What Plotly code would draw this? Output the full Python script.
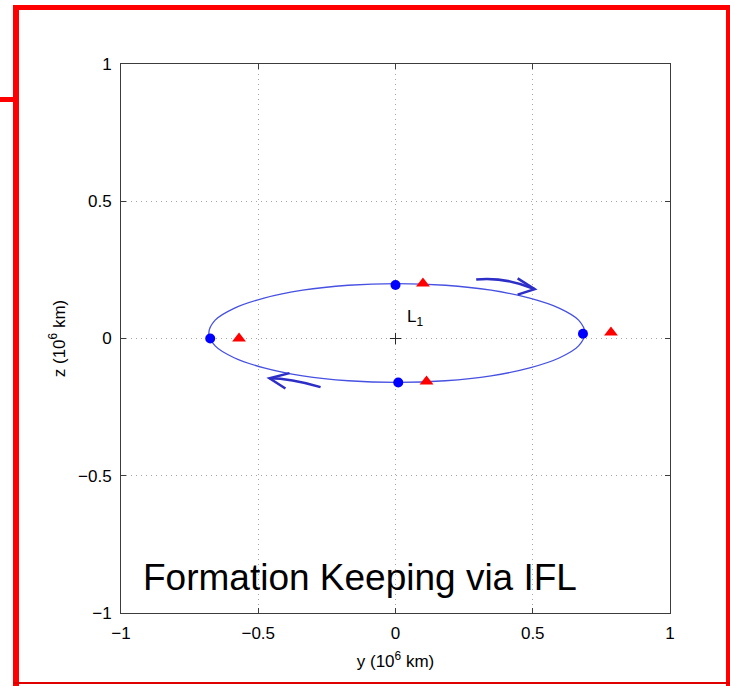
import plotly.graph_objects as go

# Orbit (y, z) in 10^6 km
orbit_y = [0.690, 0.667, 0.598, 0.489, 0.348, 0.182, 0.005, -0.172, -0.338, -0.479, -0.588, -0.657,
           -0.680, -0.657, -0.588, -0.479, -0.338, -0.172, 0.005, 0.182, 0.348, 0.489, 0.598, 0.667, 0.690]
orbit_z = [0.020, 0.067, 0.110, 0.147, 0.176, 0.194, 0.200, 0.194, 0.176, 0.147, 0.110, 0.067,
           0.020, -0.027, -0.070, -0.107, -0.136, -0.154, -0.160, -0.154, -0.136, -0.107, -0.070, -0.027, 0.020]

# Blue dots (chief) and red triangles (deputy)
dots_y = [0.0, -0.675, 0.683, 0.01]
dots_z = [0.195, 0.0, 0.017, -0.16]
tri_y = [0.10, -0.57, 0.785, 0.113]
tri_z = [0.20, 0.0, 0.022, -0.157]

# L1 point
l1_y = [0.0]
l1_z = [0.0]

# Direction arrows: tail, control, tip, barb1, barb2
arrow_top = [(0.294, 0.215), (0.394, 0.226), (0.507, 0.180), (0.445, 0.219), (0.445, 0.160)]
arrow_bot = [(-0.273, -0.177), (-0.384, -0.145), (-0.459, -0.145), (-0.386, -0.126), (-0.401, -0.182)]

tick_vals = [-1, -0.5, 0, 0.5, 1]
tick_text = ["\u22121", "\u22120.5", "0", "0.5", "1"]

fig = go.Figure()
fig.add_trace(go.Scatter(x=orbit_y, y=orbit_z, mode="lines", line=dict(color="rgb(70,80,225)", width=1.3, shape="spline", smoothing=1.0), hoverinfo="skip"))
fig.add_trace(go.Scatter(x=dots_y, y=dots_z, mode="markers", marker=dict(color="rgb(0,0,255)", size=10, symbol="circle")))
fig.add_trace(go.Scatter(x=tri_y, y=tri_z, mode="markers", marker=dict(color="rgb(255,0,0)", size=12, symbol="triangle-up")))
fig.add_trace(go.Scatter(x=l1_y, y=l1_z, mode="markers", marker=dict(color="rgb(40,40,40)", size=8, symbol="cross-thin", line=dict(color="rgb(40,40,40)", width=1))))

shapes = []
acol = "rgb(45,45,200)"
for arr in (arrow_top, arrow_bot):
    (t, c, p, b1, b2) = arr
    shapes.append(dict(type="path", xref="x", yref="y",
                       path=f"M {t[0]},{t[1]} Q {c[0]},{c[1]} {p[0]},{p[1]}",
                       line=dict(color=acol, width=2.5)))
    shapes.append(dict(type="path", xref="x", yref="y",
                       path=f"M {b1[0]},{b1[1]} L {p[0]},{p[1]} L {b2[0]},{b2[1]}",
                       line=dict(color=acol, width=2.5)))

# red slide frame (pixel -> paper)
L, T, B, W, H = 121, 64, 73, 730, 686
PW = W - L - 60
PH = H - T - B
def px(x):
    return (x - L) / PW
def py(y):
    return (H - B - y) / PH
def rect(x0, y0, x1, y1, col="rgb(255,0,0)"):
    shapes.append(dict(type="rect", xref="paper", yref="paper", x0=px(x0), x1=px(x1), y0=py(y1), y1=py(y0),
                       fillcolor=col, line=dict(width=0), layer="above"))
rect(13, 5, 730, 10)
rect(13, 5, 19, 686)
rect(726, 5, 730, 686)
rect(0, 97, 14, 102)
rect(13, 682, 730, 684, "rgb(225,0,0)")

annotations = [
    dict(x=0.035, y=0.075, xref="x", yref="y", text="L<sub>1</sub>", showarrow=False,
         font=dict(family="Liberation Sans", size=17, color="black"), xanchor="left", yanchor="middle"),
    dict(x=-0.128, y=-0.871, xref="x", yref="y", text="Formation Keeping via IFL", showarrow=False,
         font=dict(family="Liberation Sans", size=37, color="black"), xanchor="center", yanchor="middle"),
]

axis_common = dict(range=[-1, 1], tickvals=tick_vals, ticktext=tick_text, showgrid=True,
                   gridcolor="rgb(165,165,165)", griddash="1px,4px", gridwidth=1,
                   zeroline=False, showline=True, linecolor="rgb(60,60,60)", linewidth=1, mirror="ticks",
                   ticks="inside", ticklen=5, tickcolor="rgb(60,60,60)",
                   tickfont=dict(family="Liberation Sans", size=17, color="black"))

fig.update_layout(
    width=W, height=H, margin=dict(l=L, r=60, t=T, b=B),
    paper_bgcolor="white", plot_bgcolor="white", showlegend=False,
    xaxis=dict(**axis_common, ticklabelstandoff=5,
               title=dict(text="y (10<sup>6</sup> km)", standoff=12,
                          font=dict(family="Liberation Sans", size=17, color="black"))),
    yaxis=dict(**axis_common, ticklabelstandoff=5,
               title=dict(text="z (10<sup>6</sup> km)", standoff=8,
                          font=dict(family="Liberation Sans", size=17, color="black"))),
    shapes=shapes, annotations=annotations,
)

fig.write_html("out.html")
